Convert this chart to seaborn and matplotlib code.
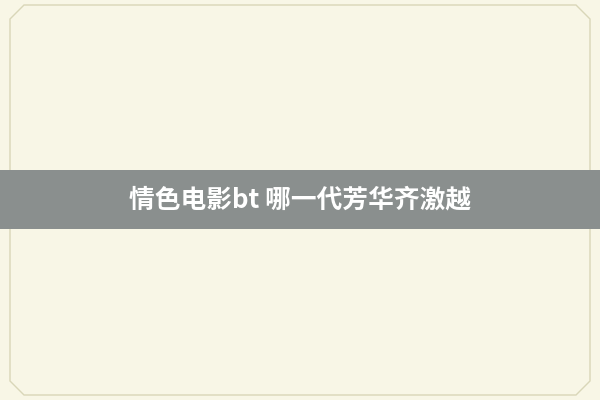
import matplotlib
matplotlib.use("Agg")
import matplotlib.pyplot as plt
from matplotlib.patches import Rectangle, Polygon
import seaborn as sns

sns.set_theme(style="white")
plt.rcParams['font.family'] = ['Noto Sans CJK SC', 'DejaVu Sans']

title_text = "情色电影bt 哪一代芳华齐激越"
background_color = "#f8f6e6"
band_color = "#8a8f8e"
border_color = "#d9d6b8"

fig = plt.figure(figsize=(6, 4), dpi=100)
fig.patch.set_facecolor(background_color)
ax = fig.add_axes([0, 0, 1, 1])
ax.set_xlim(0, 600)
ax.set_ylim(400, 0)
ax.axis("off")
ax.set_facecolor(background_color)

# decorative border with notched corners
n = 14
pts = [(10 + n, 5), (590 - n, 5), (590, 5 + n), (590, 395 - n),
       (590 - n, 395), (10 + n, 395), (10, 395 - n), (10, 5 + n)]
ax.add_patch(Polygon(pts, closed=True, fill=False, edgecolor=border_color, linewidth=1.0))

# translucent gray band
ax.add_patch(Rectangle((0, 170), 600, 59, facecolor=band_color, edgecolor="none"))

ax.text(300, 200, title_text, ha="center", va="center", color="white",
        fontsize=18.5, fontweight="bold")

fig.savefig("out.png", dpi=100, facecolor=background_color)
